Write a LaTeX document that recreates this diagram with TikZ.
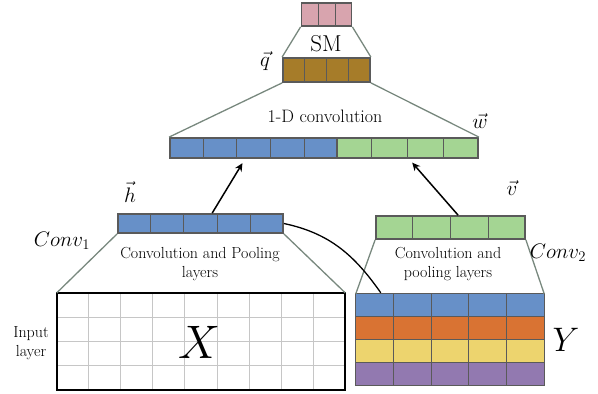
\RequirePackage{fix-cm}
\documentclass[tikz,border=0pt]{standalone}
\usetikzlibrary{calc,arrows.meta}
\definecolor{blueC}{HTML}{6790C8}
\definecolor{greenC}{HTML}{A4D593}
\definecolor{brownC}{HTML}{A67C29}
\definecolor{pinkC}{HTML}{D8A4AE}
\definecolor{orangeC}{HTML}{D97333}
\definecolor{yellowC}{HTML}{EDD46E}
\definecolor{purpleC}{HTML}{9279B0}
\definecolor{borderC}{HTML}{5A5A5A}
\definecolor{trapC}{HTML}{78887E}
\tikzset{
  bar/.style={draw=borderC, line width=1.8pt, inner sep=0pt, rectangle},
  cellline/.style={draw=borderC, line width=0.7pt},
  trap/.style={draw=trapC, line width=1.3pt},
  arr/.style={-{Stealth[length=8pt,width=7.5pt]}, line width=1.5pt, black},
  lbl/.style={font=\fontsize{16}{19}\selectfont, align=center, inner sep=0pt},
  mlbl/.style={font=\fontsize{21}{23}\selectfont, inner sep=0pt},
}
\begin{document}
\begin{tikzpicture}[x=1pt,y=-1pt]
\useasboundingbox (0,0) rectangle (598,394);
% bars
\node[bar, fill=pinkC, minimum width=50pt, minimum height=23pt] (sm) at (326.5,14.5) {};
\node[bar, fill=brownC, minimum width=87pt, minimum height=24pt] (q) at (326.5,70) {};
\node[bar, fill=blueC, minimum width=167pt, minimum height=20pt] (wb) at (253.5,148) {};
\node[bar, fill=greenC, minimum width=141pt, minimum height=20pt] (wg) at (407.5,148) {};
\node[bar, fill=blueC, minimum width=165pt, minimum height=19pt] (h) at (200.5,223.5) {};
\node[bar, fill=greenC, minimum width=149pt, minimum height=23pt] (v) at (450.5,227.5) {};
% dividers
\foreach \i in {1,2}
  \draw[cellline] ($(sm.north west)!\i/3!(sm.north east)$) -- ($(sm.south west)!\i/3!(sm.south east)$);
\foreach \n/\k in {q/4,wb/5,wg/4,h/5,v/4}{
  \pgfmathtruncatemacro{\km}{\k-1}
  \foreach \i in {1,...,\km}
    \draw[cellline] ($(\n.north west)!\i/\k!(\n.north east)$) -- ($(\n.south west)!\i/\k!(\n.south east)$);
}
% X grid
\node[rectangle, minimum width=288pt, minimum height=97pt, inner sep=0pt] (X) at (201,341.5) {};
\foreach \i in {1,...,8}
  \draw[gray!45, line width=1pt] ($(X.north west)!\i/9!(X.north east)$) -- ($(X.south west)!\i/9!(X.south east)$);
\foreach \i in {1,2,3}
  \draw[gray!45, line width=1pt] ($(X.north west)!\i/4!(X.south west)$) -- ($(X.north east)!\i/4!(X.south east)$);
\draw[black, line width=2.2pt] (X.north west) rectangle (X.south east);
% Y grid
\node[rectangle, minimum width=188pt, minimum height=91pt, inner sep=0pt] (Yg) at (450,339.5) {};
\foreach \c [count=\r from 0] in {blueC,orangeC,yellowC,purpleC}{
  \fill[\c] ($(Yg.north west)!\r/4!(Yg.south west)$) rectangle ($(Yg.north east)!\r/4+0.25!(Yg.south east)$);
}
\foreach \i in {1,...,4}
  \draw[borderC, line width=1pt] ($(Yg.north west)!\i/5!(Yg.north east)$) -- ($(Yg.south west)!\i/5!(Yg.south east)$);
\foreach \i in {1,2,3}
  \draw[borderC, line width=1pt] ($(Yg.north west)!\i/4!(Yg.south west)$) -- ($(Yg.north east)!\i/4!(Yg.south east)$);
\draw[borderC, line width=1.2pt] (Yg.north west) rectangle (Yg.south east);
% trapezoid lines
\draw[trap] (sm.south west) -- (q.north west);
\draw[trap] (sm.south east) -- (q.north east);
\draw[trap] (q.south west) -- (wb.north west);
\draw[trap] (q.south east) -- (wg.north east);
\draw[trap] (h.south west) -- (X.north west);
\draw[trap] (h.south east) -- (X.north east);
\draw[trap] (v.south west) -- (Yg.north west);
\draw[trap] (v.south east) -- (Yg.north east);
% arrows
\draw[arr, shorten >=5pt] ($(h.north west)!0.57!(h.north east)$) -- ($(wb.south west)!0.45!(wb.south east)$);
\draw[arr, shorten >=5pt] ($(v.north west)!0.55!(v.north east)$) -- ($(wg.south west)!0.51!(wg.south east)$);
% curve
\coordinate (ytop) at ($(Yg.north west)+(25,-1)$);
\draw[black, line width=1.3pt] (h.east) to[out=-12, in=125] (ytop);
% labels
\node[font=\fontsize{23}{25}\selectfont, inner sep=0pt] (smt) at (326,44) {SM};
\node[mlbl] (ql) at (265,61) {$\vec{q}$};
\node[font=\fontsize{18}{20}\selectfont, inner sep=0pt] (convt) at (325,116) {1-D convolution};
\node[mlbl] (wl) at (480,121) {$\vec{w}$};
\node[mlbl] (hl) at (130,192) {$\vec{h}$};
\node[mlbl] (c1) at (62,241) {$Conv_1$};
\node[lbl] (t1) at (200,264) {Convolution and Pooling\\[0pt]layers};
\node[mlbl] (vl) at (512,188) {$\vec{v}$};
\node[mlbl] (c2) at (558,253) {$Conv_2$};
\node[lbl] (t2) at (448,264) {Convolution and\\[0pt]pooling layers};
\node[lbl] (inl) at (31,343) {Input\\[0pt]layer};
\node[font=\fontsize{47}{50}\selectfont, inner sep=0pt] (xl) at (199,342) {$X$};
\node[font=\fontsize{34}{38}\selectfont, inner sep=0pt] (yl) at (566,340) {$Y$};
\end{tikzpicture}
\end{document}
